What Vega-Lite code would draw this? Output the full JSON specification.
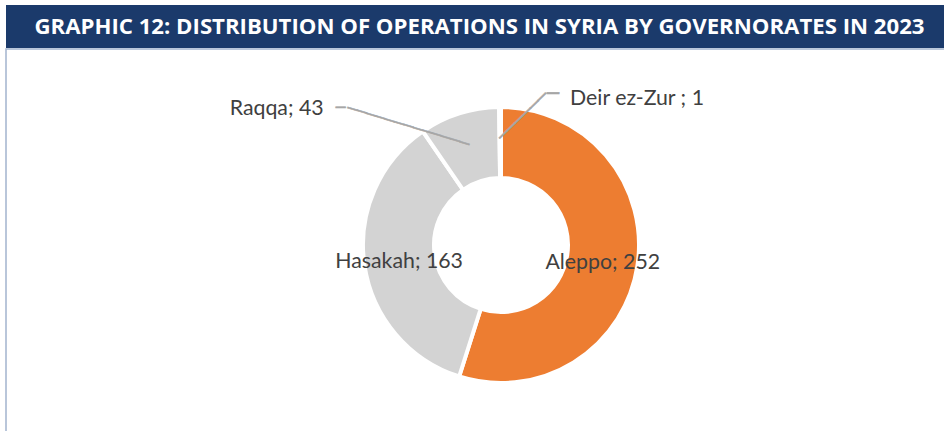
{
  "$schema": "https://vega.github.io/schema/vega-lite/v6.json",
  "padding": {"left": 5, "top": 5, "right": 0, "bottom": 0},
  "spacing": 1,
  "bounds": "flush",
  "background": "white",
  "config": {"view": {"stroke": null}, "font": "Lato"},
  "vconcat": [
    {
      "width": 939,
      "height": 43,
      "view": {"fill": "#1B3A6B", "stroke": null},
      "data": {"values": [{"title": "GRAPHIC 12: DISTRIBUTION OF OPERATIONS IN SYRIA BY GOVERNORATES IN 2023"}]},
      "mark": {
        "type": "text",
        "color": "white",
        "fontWeight": "bold",
        "font": "Open Sans",
        "fontSize": 22.2,
        "align": "center",
        "baseline": "middle",
        "dx": 4
      },
      "encoding": {
        "text": {"field": "title"},
        "x": {"field": "title", "type": "nominal", "axis": null},
        "y": {"field": "title", "type": "nominal", "axis": null}
      }
    },
    {
      "spacing": 0,
      "bounds": "flush",
      "hconcat": [
        {
          "width": 51,
          "height": 382,
          "view": {"stroke": "#A3B4CE", "strokeWidth": 1.5, "strokeDash": [51, 433, 382, 10]},
          "data": {"values": [{"blank": ""}]},
          "mark": {"type": "text"},
          "encoding": {"text": {"field": "blank"}}
        },
        {
          "spacing": 0,
          "bounds": "flush",
          "vconcat": [
            {
              "width": 888,
              "height": 10,
              "view": {"stroke": "#A3B4CE", "strokeWidth": 1.5, "strokeDash": [888, 2000]},
              "data": {"values": [{"blank": ""}]},
              "mark": {"type": "text"},
              "encoding": {"text": {"field": "blank"}}
            },
            {
              "width": 888,
              "height": 372,
              "data": {
                "values": [
                  {"governorate": "Aleppo", "operations": 252, "label": "Aleppo; 252", "rank": 1},
                  {"governorate": "Hasakah", "operations": 163, "label": "Hasakah; 163", "rank": 2},
                  {"governorate": "Raqqa", "operations": 43, "label": "Raqqa; 43", "rank": 3},
                  {"governorate": "Deir ez-Zur", "operations": 1, "label": "Deir ez-Zur ; 1", "rank": 4}
                ]
              },
              "encoding": {
                "theta": {"field": "operations", "type": "quantitative", "stack": true},
                "order": {"field": "rank", "type": "quantitative"}
              },
              "layer": [
                {
                  "mark": {"type": "arc", "innerRadius": 67, "outerRadius": 138, "stroke": "white", "strokeWidth": 4},
                  "encoding": {
                    "color": {
                      "field": "governorate",
                      "type": "nominal",
                      "scale": {"domain": ["Aleppo", "Hasakah", "Raqqa", "Deir ez-Zur"], "range": ["#ED7D31", "#D3D3D3", "#D3D3D3", "#D3D3D3"]},
                      "legend": null
                    }
                  }
                },
                {
                  "mark": {"type": "text", "radius": 105, "font": "DejaVu Sans Mono", "fontSize": 16.25, "angle": 16.9, "align": "right", "baseline": "middle", "color": "#A6A6A6", "stroke": "#A6A6A6", "strokeWidth": 0.5},
                  "encoding": {
                    "text": {"condition": {"test": "datum.governorate === 'Raqqa'", "value": "─────────────"}, "value": ""}
                  }
                },
                {
                  "mark": {"type": "text", "radius": 143, "dx": -122, "dy": -0.5, "font": "DejaVu Sans Mono", "fontSize": 16.25, "align": "left", "baseline": "middle", "color": "#A6A6A6", "stroke": "#A6A6A6", "strokeWidth": 0.5},
                  "encoding": {
                    "text": {"condition": {"test": "datum.governorate === 'Raqqa'", "value": "─"}, "value": ""}
                  }
                },
                {
                  "mark": {"type": "text", "radius": 106, "font": "DejaVu Sans Mono", "fontSize": 17.9, "angle": -44.2, "align": "left", "baseline": "middle", "color": "#A6A6A6", "stroke": "#A6A6A6", "strokeWidth": 0.5},
                  "encoding": {
                    "text": {"condition": {"test": "datum.governorate === 'Deir ez-Zur'", "value": "──────"}, "value": ""}
                  }
                },
                {
                  "mark": {"type": "text", "radius": 146, "dx": 47, "dy": -5, "font": "DejaVu Sans Mono", "fontSize": 20, "align": "left", "baseline": "middle", "color": "#A6A6A6", "stroke": "#A6A6A6", "strokeWidth": 0.5},
                  "encoding": {
                    "text": {"condition": {"test": "datum.governorate === 'Deir ez-Zur'", "value": "─"}, "value": ""}
                  }
                },
                {
                  "mark": {"type": "text", "radius": 103, "dy": 2, "fontSize": 21.3, "color": "#404040", "align": "center", "baseline": "middle"},
                  "encoding": {
                    "text": {"condition": {"test": "datum.governorate === 'Aleppo' || datum.governorate === 'Hasakah'", "field": "label", "type": "nominal"}, "value": ""}
                  }
                },
                {
                  "mark": {"type": "text", "radius": 143, "dx": -134, "fontSize": 21.3, "color": "#404040", "align": "right", "baseline": "middle"},
                  "encoding": {
                    "text": {"condition": {"test": "datum.governorate === 'Raqqa'", "field": "label", "type": "nominal"}, "value": ""}
                  }
                },
                {
                  "mark": {"type": "text", "radius": 146, "dx": 70, "fontSize": 21.3, "color": "#404040", "align": "left", "baseline": "middle"},
                  "encoding": {
                    "text": {"condition": {"test": "datum.governorate === 'Deir ez-Zur'", "field": "label", "type": "nominal"}, "value": ""}
                  }
                }
              ]
            }
          ]
        }
      ]
    }
  ]
}
